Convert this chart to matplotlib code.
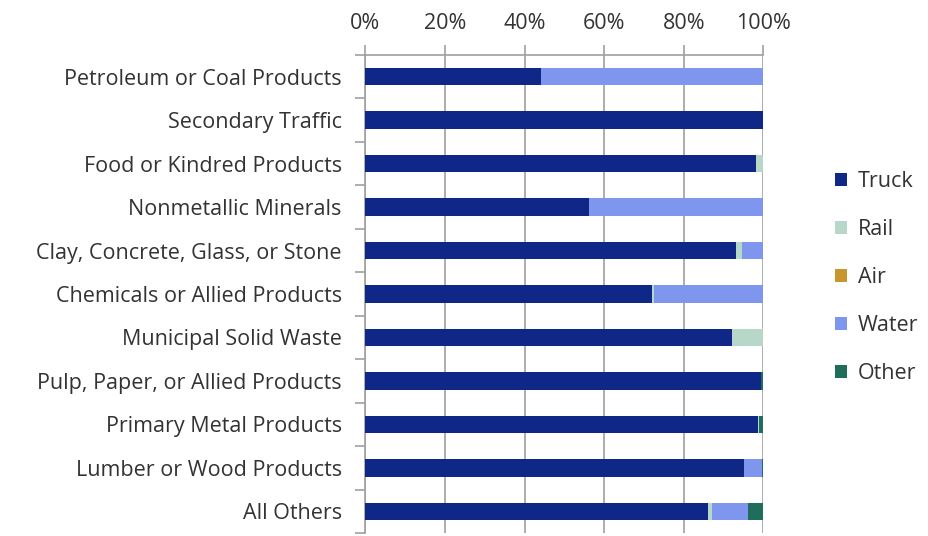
import numpy as np
import matplotlib
matplotlib.use("Agg")
import matplotlib.pyplot as plt

plt.rcParams['font.family'] = ['Open Sans', 'DejaVu Sans']

categories = [
    "Petroleum or Coal Products",
    "Secondary Traffic",
    "Food or Kindred Products",
    "Nonmetallic Minerals",
    "Clay, Concrete, Glass, or Stone",
    "Chemicals or Allied Products",
    "Municipal Solid Waste",
    "Pulp, Paper, or Allied Products",
    "Primary Metal Products",
    "Lumber or Wood Products",
    "All Others",
]

# mode shares in percent
truck = [44.0, 100.0, 98.1, 56.2, 93.1, 72.0, 92.2, 99.4, 98.7, 95.1, 86.1]
rail  = [0.0, 0.0, 1.9, 0.0, 1.6, 0.5, 7.8, 0.0, 0.3, 0.0, 1.0]
air   = [0.0, 0.0, 0.0, 0.0, 0.0, 0.0, 0.0, 0.0, 0.0, 0.0, 0.0]
water = [56.0, 0.0, 0.0, 43.8, 5.3, 27.5, 0.0, 0.0, 0.0, 4.5, 9.1]
other = [0.0, 0.0, 0.0, 0.0, 0.0, 0.0, 0.0, 0.6, 1.0, 0.4, 3.8]

modes = ["Truck", "Rail", "Air", "Water", "Other"]
colors = ["#0F2787", "#B7D7C9", "#C8962A", "#7F96EE", "#1F6E5C"]

FS = 15.5

fig = plt.figure(figsize=(9.29, 5.36), dpi=100)
ax = fig.add_axes([0.3934, 0.0056, 0.4284, 0.8918])

y = np.arange(len(categories))
left = np.zeros(len(categories))
for name, vals, c in zip(modes, [truck, rail, air, water, other], colors):
    vals = np.array(vals) / 100.0
    ax.barh(y, vals, left=left, height=0.4, color=c, label=name, zorder=3)
    left += vals

ax.set_xlim(0, 1)
ax.set_ylim(len(categories) - 0.5, -0.5)
ax.set_xticks(np.arange(0, 1.01, 0.2))
ax.set_xticklabels([f"{int(round(v * 100))}%" for v in np.arange(0, 1.01, 0.2)])
ax.xaxis.tick_top()
ax.grid(axis="x", color="#A0A0A0", linewidth=1.2, zorder=0)

ax.set_yticks(y)
ax.set_yticklabels(categories)
ax.set_yticks(np.arange(-0.5, len(categories), 1), minor=True)
ax.tick_params(axis="y", which="major", length=0, pad=17, labelsize=FS, labelcolor="#333333")
ax.tick_params(axis="y", which="minor", length=7, color="#A0A0A0", width=1.2)
ax.tick_params(axis="x", length=7, color="#A0A0A0", width=1.2, pad=8,
               labelsize=FS, labelcolor="#333333")

for s in ["right", "bottom"]:
    ax.spines[s].set_visible(False)
for s in ["left", "top"]:
    ax.spines[s].set_color("#A0A0A0")
    ax.spines[s].set_linewidth(1.2)

handles, labels = ax.get_legend_handles_labels()
fig.legend(handles, labels, loc="center left", bbox_to_anchor=(0.878, 0.482),
           frameon=False, fontsize=FS, labelspacing=1.26, handlelength=0.55,
           handleheight=0.55, handletextpad=0.5, labelcolor="#333333")

fig.savefig("out.png", dpi=100)
